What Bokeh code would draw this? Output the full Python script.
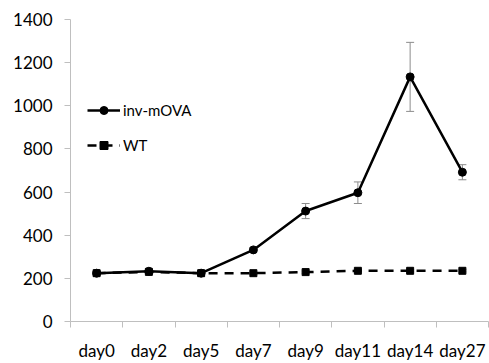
from bokeh.plotting import figure
from bokeh.models import (ColumnDataSource, FixedTicker, Range1d, Legend, LegendItem,
                          Whisker, TeeHead)
from bokeh.embed import file_html
from bokeh.resources import INLINE

days = ["day0", "day2", "day5", "day7", "day9", "day11", "day14", "day27"]
inv_movA = [224, 233, 224, 332, 512, 597, 1134, 692]
inv_err = [8, 8, 8, 10, 35, 50, 160, 35]
wt = [224, 230, 224, 224, 229, 235, 235, 235]
wt_err = [5, 5, 5, 5, 5, 5, 5, 5]
y_ticks = [0, 200, 400, 600, 800, 1000, 1200, 1400]

FONT = "Lato"
xs = [i + 0.5 for i in range(len(days))]

p = figure(width=489, height=363, output_backend="svg", toolbar_location=None,
           x_range=Range1d(0, len(days)), y_range=Range1d(0, 1400),
           min_border_left=70, min_border_right=1, min_border_top=19,
           min_border_bottom=42)
p.outline_line_color = None
p.grid.grid_line_color = None
p.background_fill_color = "white"
p.border_fill_color = "white"

src_inv = ColumnDataSource(dict(x=xs, y=inv_movA,
                                lo=[v - e for v, e in zip(inv_movA, inv_err)],
                                hi=[v + e for v, e in zip(inv_movA, inv_err)]))
src_wt = ColumnDataSource(dict(x=xs, y=wt,
                               lo=[v - e for v, e in zip(wt, wt_err)],
                               hi=[v + e for v, e in zip(wt, wt_err)]))

for s in (src_inv, src_wt):
    w = Whisker(source=s, base="x", upper="hi", lower="lo",
                line_color="#8c8c8c", line_width=1,
                upper_head=TeeHead(size=8, line_color="#8c8c8c", line_width=1),
                lower_head=TeeHead(size=8, line_color="#8c8c8c", line_width=1))
    p.add_layout(w)

l1 = p.line("x", "y", source=src_inv, line_color="black", line_width=2.5)
m1 = p.scatter("x", "y", source=src_inv, marker="circle", size=8, color="black")
l2 = p.line("x", "y", source=src_wt, line_color="black", line_width=2.5,
            line_dash="9 7")
m2 = p.scatter("x", "y", source=src_wt, marker="square", size=7, color="black")

# x axis
xa = p.xaxis[0]
xa.ticker = FixedTicker(ticks=xs, minor_ticks=list(range(len(days) + 1)))
xa.major_label_overrides = {x: d for x, d in zip(xs, days)}
xa.major_tick_out = 0
xa.major_tick_in = 0
xa.minor_tick_out = 6
xa.minor_tick_in = 0
xa.minor_tick_line_color = "#bfbfbf"
xa.axis_line_color = "#bfbfbf"
xa.major_label_text_font = FONT
xa.major_label_text_font_size = "17px"
xa.major_label_text_color = "black"
xa.major_label_standoff = 12

# y axis
ya = p.yaxis[0]
ya.ticker = FixedTicker(ticks=y_ticks)
ya.major_tick_out = 6
ya.major_tick_in = 0
ya.minor_tick_line_color = None
ya.major_tick_line_color = "#bfbfbf"
ya.axis_line_color = "#bfbfbf"
ya.major_label_text_font = FONT
ya.major_label_text_font_size = "17px"
ya.major_label_text_color = "black"
ya.major_label_standoff = 12

legend = Legend(items=[LegendItem(label="inv-mOVA", renderers=[l1, m1]),
                       LegendItem(label="WT", renderers=[l2, m2])],
                location=(17, 166), orientation="vertical",
                glyph_width=33, glyph_height=20, spacing=15,
                padding=0, margin=0, label_standoff=3,
                border_line_color=None, background_fill_alpha=0,
                label_text_font=FONT, label_text_font_size="15px",
                label_text_color="black")
p.add_layout(legend)

open("out.html", "w").write(file_html(p, INLINE))
